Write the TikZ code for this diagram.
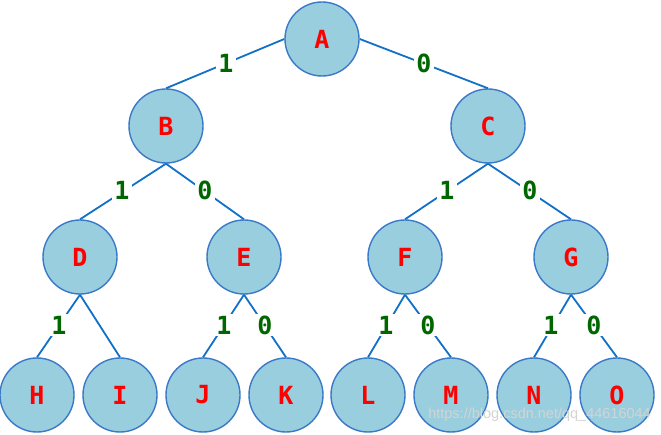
\documentclass[tikz,border=0pt]{standalone}
\usepackage{fontspec}
\newfontfamily\monob{DejaVu Sans Mono}[BoldFont={* Bold}]
\newfontfamily\wmfont{Liberation Sans}
\begin{document}
\begin{tikzpicture}[x=1pt,y=-1pt,
  tnode/.style={circle,draw={rgb,255:red,58;green,120;blue,200},line width=1.4pt,
    fill={rgb,255:red,153;green,206;blue,222},minimum size=74pt,inner sep=0pt,
    text={rgb,255:red,255;green,0;blue,0},font=\monob\bfseries\fontsize{25}{25}\selectfont},
  tedge/.style={draw={rgb,255:red,17;green,112;blue,200},line width=1.8pt},
  tlab/.style={fill=white,inner sep=2pt,text={rgb,255:red,0;green,102;blue,0},
    font=\monob\bfseries\fontsize{25}{25}\selectfont}]
\path[fill=white] (0,0) rectangle (661,435);
\useasboundingbox (0,0) rectangle (661,435);
\node[tnode] (A) at (322,39) {A};
\node[tnode] (B) at (166,126) {B};
\node[tnode] (C) at (488,126) {C};
\node[tnode] (D) at (80,257) {D};
\node[tnode] (E) at (244,257) {E};
\node[tnode] (F) at (405,257) {F};
\node[tnode] (G) at (571,257) {G};
\node[tnode] (H) at (37,395) {H};
\node[tnode] (I) at (120,395) {I};
\node[tnode] (J) at (203,395) {J};
\node[tnode] (K) at (286,395) {K};
\node[tnode] (L) at (368,395) {L};
\node[tnode] (M) at (451,395) {M};
\node[tnode] (N) at (534,395) {N};
\node[tnode] (O) at (617,395) {O};
\draw[tedge] (A.west) -- (B.north);
\draw[tedge] (A.east) -- (C.north);
\draw[tedge] (B.south) -- (D.north);
\draw[tedge] (B.south) -- (E.north);
\draw[tedge] (C.south) -- (F.north);
\draw[tedge] (C.south) -- (G.north);
\draw[tedge] (D.south) -- (H.north);
\draw[tedge] (D.south) -- (I.north);
\draw[tedge] (E.south) -- (J.north);
\draw[tedge] (E.south) -- (K.north);
\draw[tedge] (F.south) -- (L.north);
\draw[tedge] (F.south) -- (M.north);
\draw[tedge] (G.south) -- (N.north);
\draw[tedge] (G.south) -- (O.north);
\node[tlab] (l1) at (226,63) {1};
\node[tlab] (l2) at (424,63) {0};
\node[tlab] (l3) at (122,190) {1};
\node[tlab] (l4) at (205,190) {0};
\node[tlab] (l5) at (447,190) {1};
\node[tlab] (l6) at (530,190) {0};
\node[tlab] (l7) at (59,325) {1};
\node[tlab] (l8) at (224,325) {1};
\node[tlab] (l9) at (265,325) {0};
\node[tlab] (l10) at (386,325) {1};
\node[tlab] (l11) at (428,325) {0};
\node[tlab] (l12) at (551,325) {1};
\node[tlab] (l13) at (594,325) {0};
\node[text={rgb,255:red,212;green,212;blue,212},font=\wmfont\fontsize{14.5}{14.5}\selectfont,anchor=east,inner sep=0pt] (wm) at (651,415) {https://blog.csdn.net/qq\_44616044};
\end{tikzpicture}
\end{document}
